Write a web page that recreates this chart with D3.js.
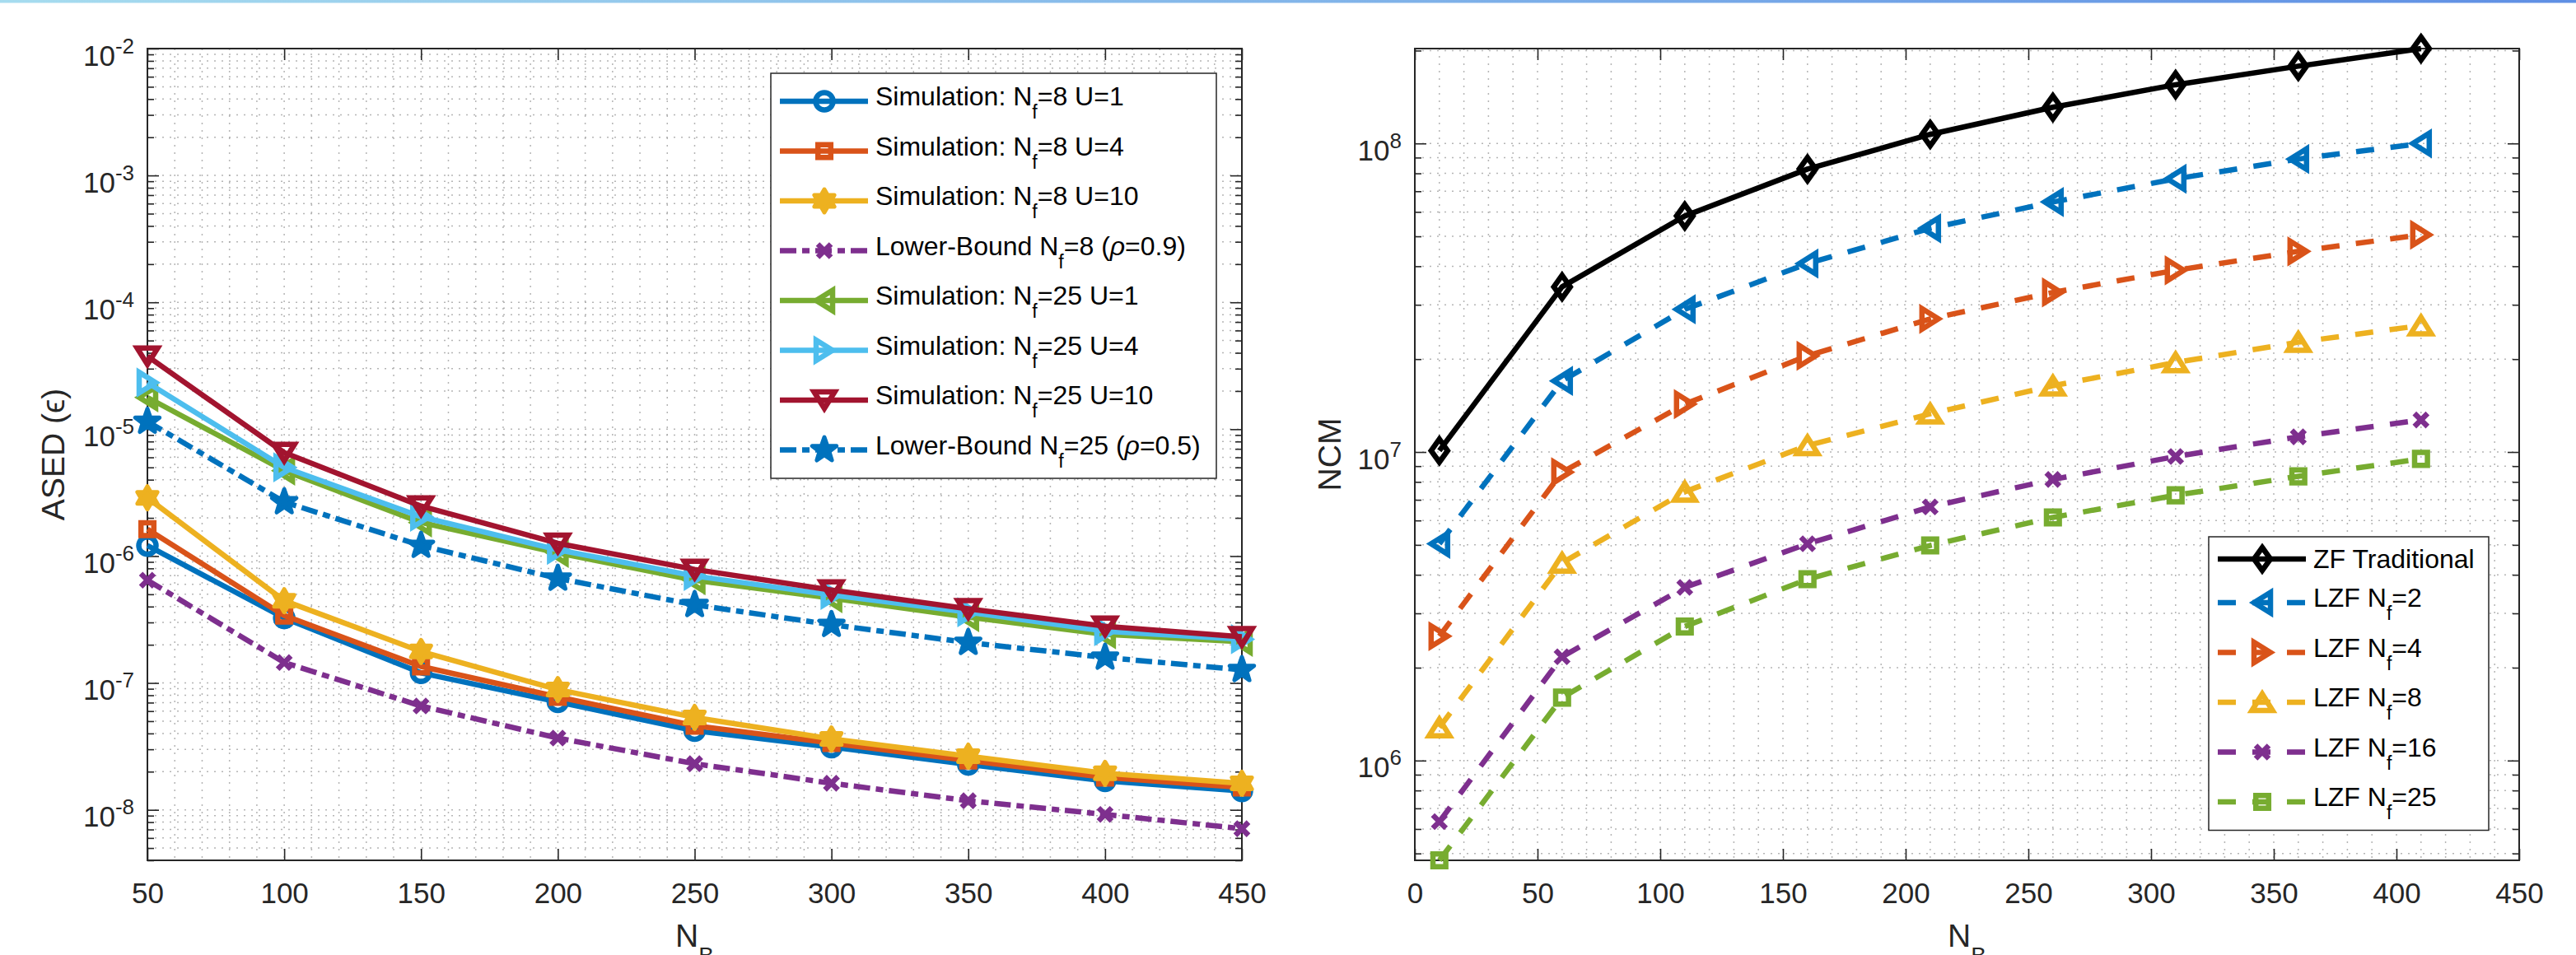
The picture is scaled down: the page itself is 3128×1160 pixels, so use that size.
<!DOCTYPE html>
<html>
<head>
<meta charset="utf-8">
<title>ASED and NCM versus N_B</title>
<script src="https://cdn.jsdelivr.net/npm/d3@7/dist/d3.min.js"></script>
<style>
  body { margin: 0; background: #fff; }
  text { font-family: "Liberation Sans", Arial, Helvetica, sans-serif; white-space: pre; }
  .grid line { stroke: #a8a8a8; stroke-width: 1.5; stroke-dasharray: 2,7; stroke-opacity: 0.85; }
</style>
</head>
<body>
<div id="chart"></div>
<script>
const W = 3128, H = 1160;
const AXC = '#262626';
const LW = 6.5;

// ---- left panel: ASED vs N_B ----
const nbLeft = [50, 100, 150, 200, 250, 300, 350, 400, 450];
const simNf8U1   = [1.21e-6, 3.25e-7, 1.2e-7, 7.1e-8, 4.2e-8, 3.12e-8, 2.28e-8, 1.69e-8, 1.41e-8];
const simNf8U4   = [1.63e-6, 3.4e-7, 1.35e-7, 7.76e-8, 4.6e-8, 3.36e-8, 2.45e-8, 1.8e-8, 1.5e-8];
const simNf8U10  = [2.88e-6, 4.45e-7, 1.77e-7, 8.87e-8, 5.35e-8, 3.62e-8, 2.65e-8, 1.94e-8, 1.62e-8];
const lbNf8      = [6.46e-7, 1.45e-7, 6.58e-8, 3.68e-8, 2.31e-8, 1.62e-8, 1.18e-8, 9.2e-9, 7.1e-9];
const simNf25U1  = [1.78e-5, 4.71e-6, 1.84e-6, 1.06e-6, 6.46e-7, 4.66e-7, 3.3e-7, 2.42e-7, 2.11e-7];
const simNf25U4  = [2.33e-5, 5.0e-6, 2.04e-6, 1.12e-6, 6.97e-7, 4.94e-7, 3.61e-7, 2.56e-7, 2.21e-7];
const simNf25U10 = [3.76e-5, 6.54e-6, 2.48e-6, 1.26e-6, 7.85e-7, 5.4e-7, 3.84e-7, 2.8e-7, 2.31e-7];
const lbNf25     = [1.15e-5, 2.67e-6, 1.21e-6, 6.67e-7, 4.13e-7, 2.88e-7, 2.08e-7, 1.59e-7, 1.27e-7];
const leftLabels = [
  'Simulation: N_{f}=8 U=1',
  'Simulation: N_{f}=8 U=4',
  'Simulation: N_{f}=8 U=10',
  'Lower-Bound N_{f}=8 (\\rho=0.9)',
  'Simulation: N_{f}=25 U=1',
  'Simulation: N_{f}=25 U=4',
  'Simulation: N_{f}=25 U=10',
  'Lower-Bound N_{f}=25 (\\rho=0.5)'
];
const leftXTicks = [50, 100, 150, 200, 250, 300, 350, 400, 450];
const leftYDomain = [4e-9, 1e-2];

// ---- right panel: NCM vs N_B ----
const nbRight = [10, 60, 110, 160, 210, 260, 310, 360, 410];
const zfTraditional = [1.01e7, 3.43e7, 5.82e7, 8.26e7, 1.07e8, 1.31e8, 1.55e8, 1.78e8, 2.03e8];
const lzfNf2  = [5.04e6, 1.70e7, 2.9e7, 4.08e7, 5.31e7, 6.46e7, 7.68e7, 8.9e7, 1.0e8];
const lzfNf4  = [2.53e6, 8.6e6, 1.43e7, 2.05e7, 2.7e7, 3.29e7, 3.88e7, 4.47e7, 5.06e7];
const lzfNf8  = [1.28e6, 4.37e6, 7.43e6, 1.05e7, 1.33e7, 1.64e7, 1.95e7, 2.27e7, 2.57e7];
const lzfNf16 = [6.34e5, 2.17e6, 3.64e6, 5.04e6, 6.64e6, 8.15e6, 9.67e6, 1.12e7, 1.27e7];
const lzfNf25 = [4.75e5, 1.6e6, 2.72e6, 3.87e6, 4.98e6, 6.14e6, 7.24e6, 8.34e6, 9.5e6];
const rightLabels = ['ZF Traditional', 'LZF N_{f}=2', 'LZF N_{f}=4', 'LZF N_{f}=8', 'LZF N_{f}=16', 'LZF N_{f}=25'];
const rightXTicks = [0, 50, 100, 150, 200, 250, 300, 350, 400, 450];

// matlab default colour order
const C = {blue: '#0072BD', orange: '#D95319', yellow: '#EDB120', purple: '#7E2F8E',
           green: '#77AC30', cyan: '#4DBEEE', red: '#A2142F', black: '#000000'};
const DASH = {'-': null, '--': '22,20', '-.': '20,7,9,7'};

const leftStyles = [
  {color: C.blue, marker: 'o', dash: '-'},
  {color: C.orange, marker: 's', dash: '-'},
  {color: C.yellow, marker: 'h', dash: '-'},
  {color: C.purple, marker: 'x', dash: '-.'},
  {color: C.green, marker: '<', dash: '-'},
  {color: C.cyan, marker: '>', dash: '-'},
  {color: C.red, marker: 'v', dash: '-'},
  {color: C.blue, marker: 'p', dash: '-.'}
];
const rightStyles = [
  {color: C.black, marker: 'd', dash: '-'},
  {color: C.blue, marker: '<', dash: '--'},
  {color: C.orange, marker: '>', dash: '--'},
  {color: C.yellow, marker: '^', dash: '--'},
  {color: C.purple, marker: 'x', dash: '--'},
  {color: C.green, marker: 's', dash: '--'}
];

const leftValues = [simNf8U1, simNf8U4, simNf8U10, lbNf8, simNf25U1, simNf25U4, simNf25U10, lbNf25];
const rightValues = [zfTraditional, lzfNf2, lzfNf4, lzfNf8, lzfNf16, lzfNf25];
const leftSeries = leftLabels.map((label, i) => Object.assign({label, values: leftValues[i]}, leftStyles[i]));
const rightSeries = rightLabels.map((label, i) => Object.assign({label, values: rightValues[i]}, rightStyles[i]));

const svg = d3.select('#chart').append('svg')
    .attr('width', W).attr('height', H)
    .style('display', 'block');

// thin gradient strip along the top edge
const grad = svg.append('defs').append('linearGradient').attr('id', 'topbar');
grad.append('stop').attr('offset', '0%').attr('stop-color', '#a6dcef');
grad.append('stop').attr('offset', '100%').attr('stop-color', '#5f8fe4');
svg.append('rect').attr('width', W).attr('height', 3.5).attr('fill', 'url(#topbar)');

const isStar = m => m === 'p' || m === 'h';

function markerPath(m) {
    if (m === 'o') { const r = 10.5; return `M${r},0A${r},${r} 0 1,1 ${-r},0A${r},${r} 0 1,1 ${r},0Z`; }
    if (m === 's') { const s = 7.8; return `M${-s},${-s}H${s}V${s}H${-s}Z`; }
    if (m === 'd') return 'M0,-14L10,0L0,14L-10,0Z';
    if (m === 'v') return 'M-12.5,-10L12.5,-10L0,10Z';
    if (m === '^') return 'M-12.5,10L12.5,10L0,-10Z';
    if (m === '<') return 'M10,-12.5L10,12.5L-10,0Z';
    if (m === '>') return 'M-10,-12.5L-10,12.5L10,0Z';
    if (m === 'x') return 'M-8,-8L8,8M8,-8L-8,8';
    // stars
    const n = m === 'p' ? 5 : 6;
    const R = m === 'p' ? 15.5 : 14;
    const r = m === 'p' ? R * 0.4 : R / Math.sqrt(3);
    const pts = d3.range(2 * n).map(i => {
        const a = -Math.PI / 2 + i * Math.PI / n;
        const rr = i % 2 ? r : R;
        return [rr * Math.cos(a), rr * Math.sin(a)];
    });
    return 'M' + pts.join('L') + 'Z';
}

function styleMarker(sel, s) {
    sel.attr('d', markerPath(s.marker))
        .attr('fill', isStar(s.marker) ? s.color : 'none')
        .attr('stroke', s.color)
        .attr('stroke-width', isStar(s.marker) ? 5 : LW)
        .attr('stroke-linejoin', isStar(s.marker) ? 'round' : 'miter')
        .attr('stroke-linecap', 'butt');
}

// text with _{sub} and \rho
function richText(t, str, size, sub) {
    const parts = str.split(/(_\{[^}]*\}|\\rho)/g).filter(p => p);
    let back = 0;
    parts.forEach(p => {
        if (p.startsWith('_{')) {
            t.append('tspan').attr('dy', sub).attr('font-size', size * 0.72).text(p.slice(2, -1));
            back = -sub;
        } else {
            const ts = t.append('tspan').attr('dy', back).text(p === '\\rho' ? '\u03C1' : p);
            if (p === '\\rho') ts.attr('font-style', 'italic');
            back = 0;
        }
    });
}

function drawPanel(cfg) {
    const g = svg.append('g');
    const x = d3.scaleLinear().domain(cfg.xDomain).range([cfg.left, cfg.right]);
    const y = d3.scaleLog().domain(cfg.yDomain).range([cfg.bottom, cfg.top]);

    const yAll = y.ticks();
    const isMajor = v => Math.abs(Math.log10(v) - Math.round(Math.log10(v))) < 1e-6;
    const yMajor = yAll.filter(isMajor);
    const yMinor = yAll.filter(v => !isMajor(v));

    // dotted grid (major + minor)
    const grid = g.append('g').attr('class', 'grid');
    const xg = d3.range(cfg.xDomain[0], cfg.xDomain[1] + 0.1, 10).filter(v => v > cfg.xDomain[0] && v < cfg.xDomain[1]);
    grid.selectAll('line.gx').data(xg).join('line').attr('class', 'gx')
        .attr('x1', d => x(d)).attr('x2', d => x(d)).attr('y1', cfg.top).attr('y2', cfg.bottom);
    grid.selectAll('line.gy').data(yAll.filter(v => y(v) > cfg.top + 1 && y(v) < cfg.bottom - 1)).join('line').attr('class', 'gy')
        .attr('y1', d => y(d)).attr('y2', d => y(d)).attr('x1', cfg.left).attr('x2', cfg.right);

    const fixAxis = a => a.attr('color', AXC).attr('font-size', 35)
        .attr('font-family', '"Liberation Sans", Arial, sans-serif')
        .call(s => s.select('.domain').remove())
        .call(s => s.selectAll('line').attr('stroke-width', 1.6));

    g.append('g').attr('transform', `translate(0,${cfg.bottom})`)
        .call(d3.axisBottom(x).tickValues(cfg.xTicks).tickSizeInner(-14).tickSizeOuter(0).tickPadding(27))
        .call(fixAxis);
    g.append('g').attr('transform', `translate(0,${cfg.top})`)
        .call(d3.axisTop(x).tickValues(cfg.xTicks).tickSizeInner(-14).tickSizeOuter(0).tickFormat(() => ''))
        .call(fixAxis);

    g.append('g').attr('transform', `translate(${cfg.left},0)`)
        .call(d3.axisLeft(y).tickValues(yMajor).tickSizeInner(-14).tickSizeOuter(0).tickPadding(16))
        .call(fixAxis)
        .call(s => s.selectAll('.tick text').attr('dy', null).text(null).each(function (d) {
            const t = d3.select(this);
            t.append('tspan').attr('dy', 20).text('10');
            t.append('tspan').attr('dy', -15).attr('font-size', 26).text(String(Math.round(Math.log10(d))));
        }));
    g.append('g').attr('transform', `translate(${cfg.left},0)`)
        .call(d3.axisLeft(y).tickValues(yMinor).tickSizeInner(-8).tickSizeOuter(0).tickFormat(() => ''))
        .call(fixAxis);
    g.append('g').attr('transform', `translate(${cfg.right},0)`)
        .call(d3.axisRight(y).tickValues(yMajor).tickSizeInner(-14).tickSizeOuter(0).tickFormat(() => ''))
        .call(fixAxis);
    g.append('g').attr('transform', `translate(${cfg.right},0)`)
        .call(d3.axisRight(y).tickValues(yMinor).tickSizeInner(-8).tickSizeOuter(0).tickFormat(() => ''))
        .call(fixAxis);

    g.append('rect')
        .attr('x', cfg.left).attr('y', cfg.top)
        .attr('width', cfg.right - cfg.left).attr('height', cfg.bottom - cfg.top)
        .attr('fill', 'none').attr('stroke', AXC).attr('stroke-width', 2);

    // axis labels
    const xl = g.append('text')
        .attr('x', (cfg.left + cfg.right) / 2).attr('y', 1150)
        .attr('text-anchor', 'middle').attr('font-size', 39).attr('fill', AXC);
    xl.append('tspan').text('N');
    xl.append('tspan').attr('dy', 20).attr('font-size', 28).text('B');

    g.append('text')
        .attr('transform', `translate(${cfg.yLabelX},${(cfg.top + cfg.bottom) / 2}) rotate(-90)`)
        .attr('text-anchor', 'middle').attr('font-size', 39).attr('fill', AXC)
        .text(cfg.yLabel);

    // series
    const line = d3.line().x((d, i) => x(cfg.xs[i])).y(d => y(d));
    cfg.series.forEach(s => {
        const gs = g.append('g');
        gs.append('path').datum(s.values)
            .attr('d', line)
            .attr('fill', 'none')
            .attr('stroke', s.color)
            .attr('stroke-width', LW)
            .attr('stroke-linejoin', 'round')
            .attr('stroke-dasharray', DASH[s.dash]);
        gs.selectAll('path.mk').data(s.values).join('path').attr('class', 'mk')
            .attr('transform', (d, i) => `translate(${x(cfg.xs[i])},${y(d)})`)
            .call(sel => styleMarker(sel, s));
    });

    // legend
    const L = cfg.legend;
    const rows = cfg.series.map(s => s.label.includes('_{') ? 60.5 : 46);
    const lg = g.append('g');
    lg.append('rect')
        .attr('x', L.x).attr('y', L.y)
        .attr('width', L.w).attr('height', d3.sum(rows) + 8)
        .attr('fill', '#fff').attr('stroke', AXC).attr('stroke-width', 1.5);
    let cy = L.y + 4;
    cfg.series.forEach((s, i) => {
        const hasSub = rows[i] > 50;
        const mid = cy + (hasSub ? 30 : 23);
        lg.append('line')
            .attr('x1', L.x + 11).attr('x2', L.x + 118).attr('y1', mid).attr('y2', mid)
            .attr('stroke', s.color).attr('stroke-width', LW)
            .attr('stroke-dasharray', DASH[s.dash]);
        lg.append('path').attr('transform', `translate(${L.x + 65},${mid})`)
            .call(sel => styleMarker(sel, s));
        const t = lg.append('text')
            .attr('x', L.x + 127).attr('y', mid + (hasSub ? 5 : 11))
            .attr('font-size', 32).attr('fill', '#000');
        richText(t, s.label, 32, 16);
        cy += rows[i];
    });
}

drawPanel({
    left: 179, right: 1508, top: 59, bottom: 1045,
    xDomain: [50, 450], yDomain: leftYDomain,
    xTicks: leftXTicks, xs: nbLeft,
    series: leftSeries,
    yLabel: 'ASED (\u03F5)', yLabelX: 78,
    legend: {x: 936, y: 89, w: 541}
});

drawPanel({
    left: 1718, right: 3059, top: 59, bottom: 1045,
    xDomain: [0, 450], yDomain: d3.extent(rightValues.flat()),
    xTicks: rightXTicks, xs: nbRight,
    series: rightSeries,
    yLabel: 'NCM', yLabelX: 1628,
    legend: {x: 2682, y: 652, w: 340}
});
</script>
</body>
</html>
